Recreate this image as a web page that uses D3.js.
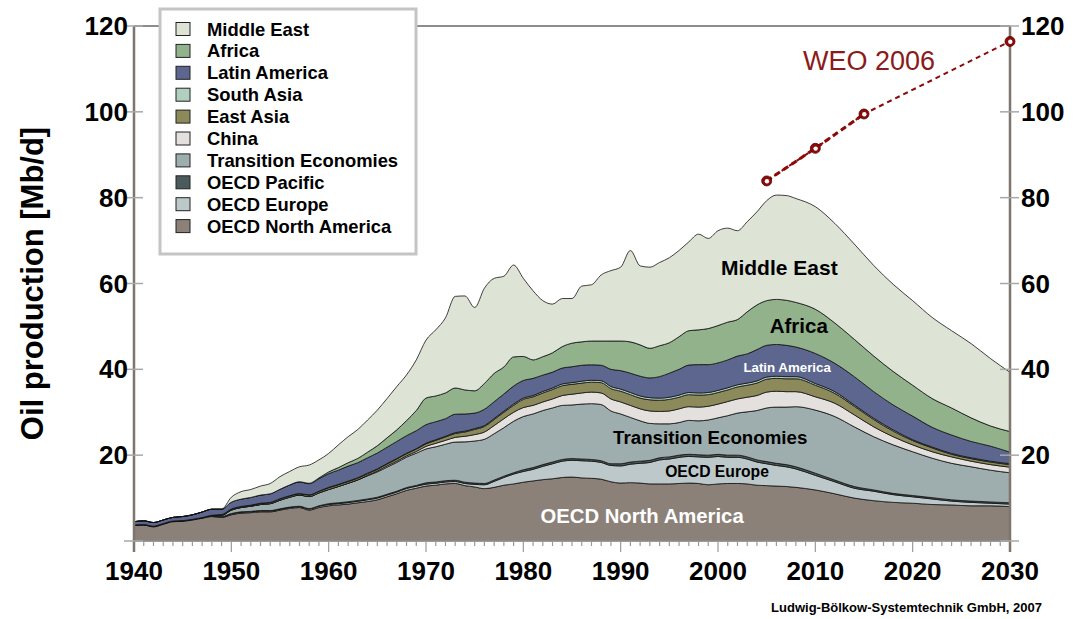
<!DOCTYPE html>
<html>
<head>
<meta charset="utf-8">
<script src="https://cdn.jsdelivr.net/npm/d3@7"></script>
<style>
  html, body { margin: 0; padding: 0; background: #fff; }
  svg { display: block; font-family: "Liberation Sans", Arial, sans-serif; }
</style>
</head>
<body>
<svg id="chart" width="1079" height="619"></svg>
<script>
// ---------------- DATA ----------------
const years = [
  1940,1941,1942,1943,1944,1945,1946,1947,1948,1949,
  1950,1951,1952,1953,1954,1955,1956,1957,1958,1959,
  1960,1961,1962,1963,1964,1965,1966,1967,1968,1969,
  1970,1971,1972,1973,1974,1975,1976,1977,1978,1979,
  1980,1981,1982,1983,1984,1985,1986,1987,1988,1989,
  1990,1991,1992,1993,1994,1995,1996,1997,1998,1999,
  2000,2001,2002,2003,2004,2005,2006,2007,2008,
  2010,2012,2014,2016,2018,2020,2022,2024,2026,2028,2030
];

const oecdNorthAmerica = [
  3.6,3.7,3.3,3.9,4.5,4.6,4.9,5.3,5.7,5.5,
  6.1,6.5,6.6,6.8,6.8,7.2,7.6,7.8,7.2,7.8,
  8.2,8.4,8.6,8.9,9.2,9.6,10.3,11.0,11.8,12.3,
  12.8,13.0,13.3,13.4,12.9,12.6,12.2,12.5,13.0,13.3,
  13.7,14.0,14.3,14.5,14.8,14.9,14.7,14.6,14.4,13.8,
  13.5,13.6,13.5,13.3,13.3,13.3,13.4,13.5,13.4,13.1,
  13.3,13.4,13.4,13.3,13.0,12.9,12.8,12.7,12.5,
  11.9,11.0,10.0,9.4,9.0,8.8,8.5,8.4,8.2,8.2,8.0
];
const oecdEurope = [
  0.1,0.1,0.1,0.1,0.1,0.1,0.1,0.1,0.1,0.1,
  0.2,0.2,0.2,0.2,0.2,0.2,0.2,0.2,0.25,0.3,
  0.3,0.3,0.35,0.35,0.4,0.4,0.4,0.4,0.45,0.45,
  0.45,0.45,0.45,0.45,0.5,0.6,0.9,1.4,1.8,2.3,
  2.5,2.7,3.1,3.5,3.8,3.9,4.0,4.0,3.9,3.8,
  4.0,4.3,4.6,5.0,5.6,5.8,6.1,6.2,6.2,6.4,
  6.4,6.1,6.1,5.8,5.4,5.1,4.8,4.6,4.3,
  3.4,2.8,2.3,2.2,1.8,1.5,1.3,0.9,0.8,0.6,0.6
];
const oecdPacific = [
  0.05,0.05,0.05,0.05,0.05,0.05,0.05,0.05,0.2,0.1,
  0.1,0.1,0.1,0.1,0.1,0.1,0.1,0.1,0.1,0.1,
  0.2,0.2,0.2,0.2,0.2,0.2,0.2,0.2,0.2,0.2,
  0.3,0.3,0.3,0.3,0.3,0.3,0.3,0.3,0.3,0.3,
  0.4,0.4,0.4,0.4,0.4,0.4,0.4,0.4,0.4,0.4,
  0.5,0.5,0.5,0.5,0.5,0.5,0.5,0.5,0.5,0.5,
  0.5,0.5,0.5,0.5,0.5,0.5,0.5,0.5,0.5,
  0.5,0.4,0.4,0.3,0.3,0.3,0.3,0.3,0.3,0.3,0.3
];
const transitionEconomies = [
  0,0,0,0,0,0,0,0,0,0.3,
  0.8,1.0,1.2,1.4,1.6,2.0,2.3,2.6,2.8,3.0,
  3.3,3.8,4.3,4.8,5.4,5.9,6.3,6.7,7.1,7.5,
  7.9,8.2,8.5,8.9,9.4,9.8,10.3,10.8,11.3,12.0,
  12.4,12.5,12.6,12.6,12.6,12.5,12.8,13.0,13.1,12.3,
  11.6,10.4,9.4,8.6,7.9,7.7,7.6,7.9,7.9,8.2,
  8.5,9.2,9.8,10.5,11.5,12.5,13.1,13.4,14.0,
  14.7,14.8,13.9,12.4,11.3,10.2,9.2,8.5,8.0,7.4,7.0
];
const china = [
  0,0,0,0,0,0,0,0,0,0,
  0,0,0,0,0,0,0,0,0,0,
  0,0,0,0,0.1,0.2,0.3,0.3,0.3,0.4,
  0.6,0.8,0.9,1.1,1.3,1.5,1.7,1.9,2.1,2.1,
  2.1,2.0,2.0,2.1,2.3,2.5,2.6,2.7,2.7,2.8,
  2.8,2.8,2.8,2.9,2.9,3.0,3.2,3.2,3.2,3.2,
  3.2,3.3,3.3,3.4,3.5,3.7,3.7,3.6,3.5,
  3.1,3.1,2.8,2.3,1.9,1.6,1.5,1.5,1.3,1.3,1.3
];
const eastAsia = [
  0,0,0,0,0,0,0,0,0,0.1,
  0.2,0.2,0.2,0.25,0.25,0.3,0.3,0.3,0.35,0.35,
  0.4,0.4,0.4,0.4,0.4,0.4,0.45,0.5,0.5,0.55,
  0.6,0.7,0.8,0.9,1.0,1.2,1.3,1.4,1.5,1.6,
  1.9,2.0,2.1,2.2,2.3,2.3,2.3,2.3,2.4,2.4,
  2.5,2.5,2.5,2.6,2.6,2.7,2.7,2.8,2.8,2.7,
  2.7,2.7,2.8,2.8,2.9,3.0,3.0,3.0,3.0,
  2.7,2.3,2.0,1.7,1.3,1.0,0.9,0.6,0.6,0.6,0.6
];
const southAsia = [
  0,0,0,0,0,0,0,0,0,0.05,
  0.05,0.05,0.05,0.05,0.05,0.05,0.05,0.05,0.05,0.05,
  0.1,0.1,0.1,0.1,0.1,0.1,0.1,0.1,0.1,0.1,
  0.15,0.15,0.15,0.2,0.2,0.2,0.2,0.25,0.25,0.3,
  0.3,0.3,0.35,0.35,0.4,0.4,0.45,0.45,0.45,0.5,
  0.5,0.5,0.5,0.5,0.5,0.5,0.5,0.5,0.5,0.5,
  0.5,0.5,0.5,0.5,0.5,0.5,0.5,0.5,0.5,
  0.4,0.4,0.3,0.3,0.3,0.2,0.2,0.2,0.2,0.2,0.2
];
const latinAmerica = [
  0.75,0.85,0.85,0.85,0.85,0.95,1.05,1.3,1.4,1.25,
  1.6,1.7,1.8,1.9,2.0,2.2,2.5,2.7,2.6,2.9,
  3.2,3.3,3.5,3.5,3.6,3.7,3.8,4.0,4.1,4.2,
  4.3,4.2,4.1,4.3,4.0,3.6,3.8,3.9,4.0,4.2,
  4.1,4.0,3.8,3.7,3.7,3.7,3.7,3.6,3.6,4.0,
  4.3,4.5,4.6,4.6,5.0,5.6,6.0,6.4,6.6,6.5,
  6.4,6.5,6.7,6.8,7.3,7.4,7.4,7.3,6.9,
  7.0,6.6,6.6,6.2,5.8,5.5,4.6,4.3,3.8,3.5,2.7
];
const africa = [
  0,0,0,0,0,0,0,0,0,0,
  0,0,0,0,0,0,0.02,0.05,0.1,0.2,
  0.4,0.6,0.8,1.0,1.3,1.7,2.2,2.7,3.5,4.7,
  6.2,6.0,6.0,6.1,5.6,5.2,6.0,6.6,6.3,6.8,
  5.6,4.3,4.3,4.5,5.0,5.5,5.45,5.55,5.65,6.6,
  6.9,7.3,7.3,6.9,7.2,7.1,7.6,8.0,8.1,8.4,
  8.7,8.8,8.5,9.8,10.4,10.4,10.5,10.5,10.4,
  10.3,9.4,8.7,8.3,7.8,7.2,6.7,6.3,5.5,4.7,4.8
];
const middleEast = [
  0,0,0,0,0,0,0,0,0,0,
  1.15,1.75,1.85,2.1,2.4,2.95,3.13,3.5,4.25,4.2,
  4.3,5.3,6.05,6.75,7.5,8.3,9.15,10.1,10.65,11.8,
  13.5,15.4,17.5,21.35,21.9,19.4,22.2,22.15,21.15,21.4,
  18.2,16.1,13.05,11.35,11.2,10.4,13.0,13.1,15.4,16.4,
  17.2,21.3,18.4,18.9,19.4,19.8,20.1,20.7,22.3,21.0,
  22.1,21.9,20.7,21.0,21.7,23.3,24.3,24.4,24.2,
  23.9,23.2,22.2,21.1,20.3,19.7,18.9,18.0,17.3,15.7,13.8
];

// WEO 2006 projection
const weoYears  = [2005, 2010, 2015, 2030];
const weoValues = [83.9, 91.5, 99.5, 116.4];

// Series names (bottom to top) and colours
const seriesNames = ["OECD North America","OECD Europe","OECD Pacific","Transition Economies",
  "China","East Asia","South Asia","Latin America","Africa","Middle East"];
const seriesData = [oecdNorthAmerica, oecdEurope, oecdPacific, transitionEconomies,
  china, eastAsia, southAsia, latinAmerica, africa, middleEast];
const seriesColors = ["#8b8178","#bdc8ca","#4b5a5a","#9eadad",
  "#e3e0dd","#8c8a5a","#b0cfbf","#5c668f","#91b28b","#dde3d5"];

const yTicks = [20, 40, 60, 80, 100, 120];
const xTicks = [1940, 1950, 1960, 1970, 1980, 1990, 2000, 2010, 2020, 2030];

// ---------------- CHART ----------------
const svg = d3.select("#chart");
const x = d3.scaleLinear().domain([1940, 2030]).range([134, 1010]);
const y = d3.scaleLinear().domain([0, 120]).range([541, 26]);

const rows = years.map((yr, i) => {
  const r = { year: yr };
  seriesNames.forEach((k, j) => r[k] = seriesData[j][i]);
  return r;
});
const stacked = d3.stack().keys(seriesNames)(rows);

// top border of plot
svg.append("line")
  .attr("x1", x(1940)).attr("x2", x(2030))
  .attr("y1", y(120)).attr("y2", y(120))
  .attr("stroke", "#8c8c8c").attr("stroke-width", 2);

// areas
const area = d3.area()
  .x(d => x(d.data.year))
  .y0(d => y(d[0]))
  .y1(d => y(d[1]))
  .curve(d3.curveMonotoneX);

svg.append("g").selectAll("path")
  .data(stacked)
  .join("path")
  .attr("d", area)
  .attr("fill", (d, i) => seriesColors[i])
  .attr("stroke", "#111")
  .attr("stroke-width", 0.8)
  .attr("stroke-linejoin", "round");

// x axis: baseline + minor and major ticks
svg.append("line")
  .attr("x1", x(1940)).attr("x2", x(2030))
  .attr("y1", y(0)).attr("y2", y(0))
  .attr("stroke", "#9a9a9a").attr("stroke-width", 1.5);
const minorYears = d3.range(1940, 2031);
svg.append("g").selectAll("line")
  .data(minorYears)
  .join("line")
  .attr("x1", d => x(d)).attr("x2", d => x(d))
  .attr("y1", y(0)).attr("y2", d => y(0) + (d % 10 === 0 ? 11 : 5))
  .attr("stroke", "#9a9a9a").attr("stroke-width", 1.2);

svg.append("g").selectAll("text")
  .data(xTicks)
  .join("text")
  .attr("x", d => x(d)).attr("y", 580)
  .attr("text-anchor", "middle")
  .attr("font-size", 26).attr("font-weight", "bold").attr("fill", "#000")
  .text(d => d);

// y axes (left and right)
[x(1940), x(2030)].forEach(ax => {
  svg.append("line")
    .attr("x1", ax).attr("x2", ax)
    .attr("y1", y(0) + 11).attr("y2", y(120))
    .attr("stroke", "#7d756e").attr("stroke-width", 2.5);
  svg.append("g").selectAll("line")
    .data([0].concat(yTicks))
    .join("line")
    .attr("x1", ax - 10).attr("x2", ax + 9)
    .attr("y1", d => y(d)).attr("y2", d => y(d))
    .attr("stroke", "#a8a8a8").attr("stroke-width", 1.5);
});

svg.append("g").selectAll("text")
  .data(yTicks)
  .join("text")
  .attr("x", 128).attr("y", d => y(d) + 9)
  .attr("text-anchor", "end")
  .attr("font-size", 26).attr("font-weight", "bold").attr("fill", "#000")
  .text(d => d);
svg.append("g").selectAll("text")
  .data(yTicks)
  .join("text")
  .attr("x", 1021).attr("y", d => y(d) + 9)
  .attr("text-anchor", "start")
  .attr("font-size", 26).attr("font-weight", "bold").attr("fill", "#000")
  .text(d => d);

// y axis title
svg.append("text")
  .attr("transform", "translate(43," + ((y(0) + y(120)) / 2 + 0) + ") rotate(-90)")
  .attr("text-anchor", "middle")
  .attr("font-size", 31).attr("font-weight", "bold").attr("fill", "#000")
  .text("Oil production [Mb/d]");

// area labels
const areaLabels = [
  { t: "Middle East", yr: 2006.3, v: 62.0, size: 21, fill: "#000" },
  { t: "Africa", yr: 2008.3, v: 48.4, size: 20.5, fill: "#000" },
  { t: "Latin America", yr: 2007.1, v: 39.3, size: 13.3, fill: "#fff" },
  { t: "Transition Economies", yr: 1999.2, v: 22.6, size: 18.7, fill: "#000" },
  { t: "OECD Europe", yr: 1999.9, v: 14.9, size: 15.7, fill: "#000" },
  { t: "OECD North America", yr: 1992.2, v: 4.2, size: 20.3, fill: "#fff" }
];
svg.append("g").selectAll("text")
  .data(areaLabels)
  .join("text")
  .attr("x", d => x(d.yr)).attr("y", d => y(d.v))
  .attr("text-anchor", "middle")
  .attr("font-size", d => d.size).attr("font-weight", "bold")
  .attr("fill", d => d.fill)
  .text(d => d.t);

// WEO 2006 projection line
const weoPts = weoYears.map((yr, i) => [yr, weoValues[i]]);
const weoLine = d3.line().x(d => x(d[0])).y(d => y(d[1]));
svg.append("path")
  .attr("d", weoLine(weoPts))
  .attr("fill", "none").attr("stroke", "#8b0a0a")
  .attr("stroke-width", 2).attr("stroke-dasharray", "5,4");
svg.append("path")
  .attr("d", weoLine(weoPts.slice(0, 3)))
  .attr("fill", "none").attr("stroke", "#8b0a0a")
  .attr("stroke-width", 3).attr("stroke-dasharray", "6,4");
const mk = svg.append("g").selectAll("g")
  .data(weoPts)
  .join("g")
  .attr("transform", d => "translate(" + x(d[0]) + "," + y(d[1]) + ")");
mk.append("circle").attr("r", 5).attr("fill", "#8b0a0a").attr("stroke", "#5a0000").attr("stroke-width", 0.8);
mk.append("circle").attr("r", 2.2).attr("cx", 0.3).attr("cy", 0.3).attr("fill", "#fff");

svg.append("text")
  .attr("x", 803).attr("y", 70)
  .attr("font-size", 27).attr("fill", "#8b1a1a")
  .text("WEO 2006");

// legend
const lg = svg.append("g");
lg.append("rect")
  .attr("x", 160).attr("y", 9).attr("width", 256).attr("height", 245)
  .attr("fill", "#fff").attr("stroke", "#c4c4c4").attr("stroke-width", 3);
const legendItems = seriesNames.map((n, i) => ({ n, c: seriesColors[i] })).reverse();
const li = lg.selectAll("g.item")
  .data(legendItems)
  .join("g")
  .attr("class", "item")
  .attr("transform", (d, i) => "translate(0," + (29 + i * 21.9) + ")");
li.append("rect")
  .attr("x", 176).attr("y", -6.5).attr("width", 14).attr("height", 13)
  .attr("fill", d => d.c).attr("stroke", "#222").attr("stroke-width", 1);
li.append("text")
  .attr("x", 207).attr("y", 6.5)
  .attr("font-size", 18.4).attr("font-weight", "bold").attr("fill", "#000")
  .text(d => d.n);

// credit
svg.append("text")
  .attr("x", 1042).attr("y", 612)
  .attr("text-anchor", "end")
  .attr("font-size", 13).attr("font-weight", "bold").attr("fill", "#000")
  .text("Ludwig-Bölkow-Systemtechnik GmbH, 2007");
</script>
</body>
</html>
